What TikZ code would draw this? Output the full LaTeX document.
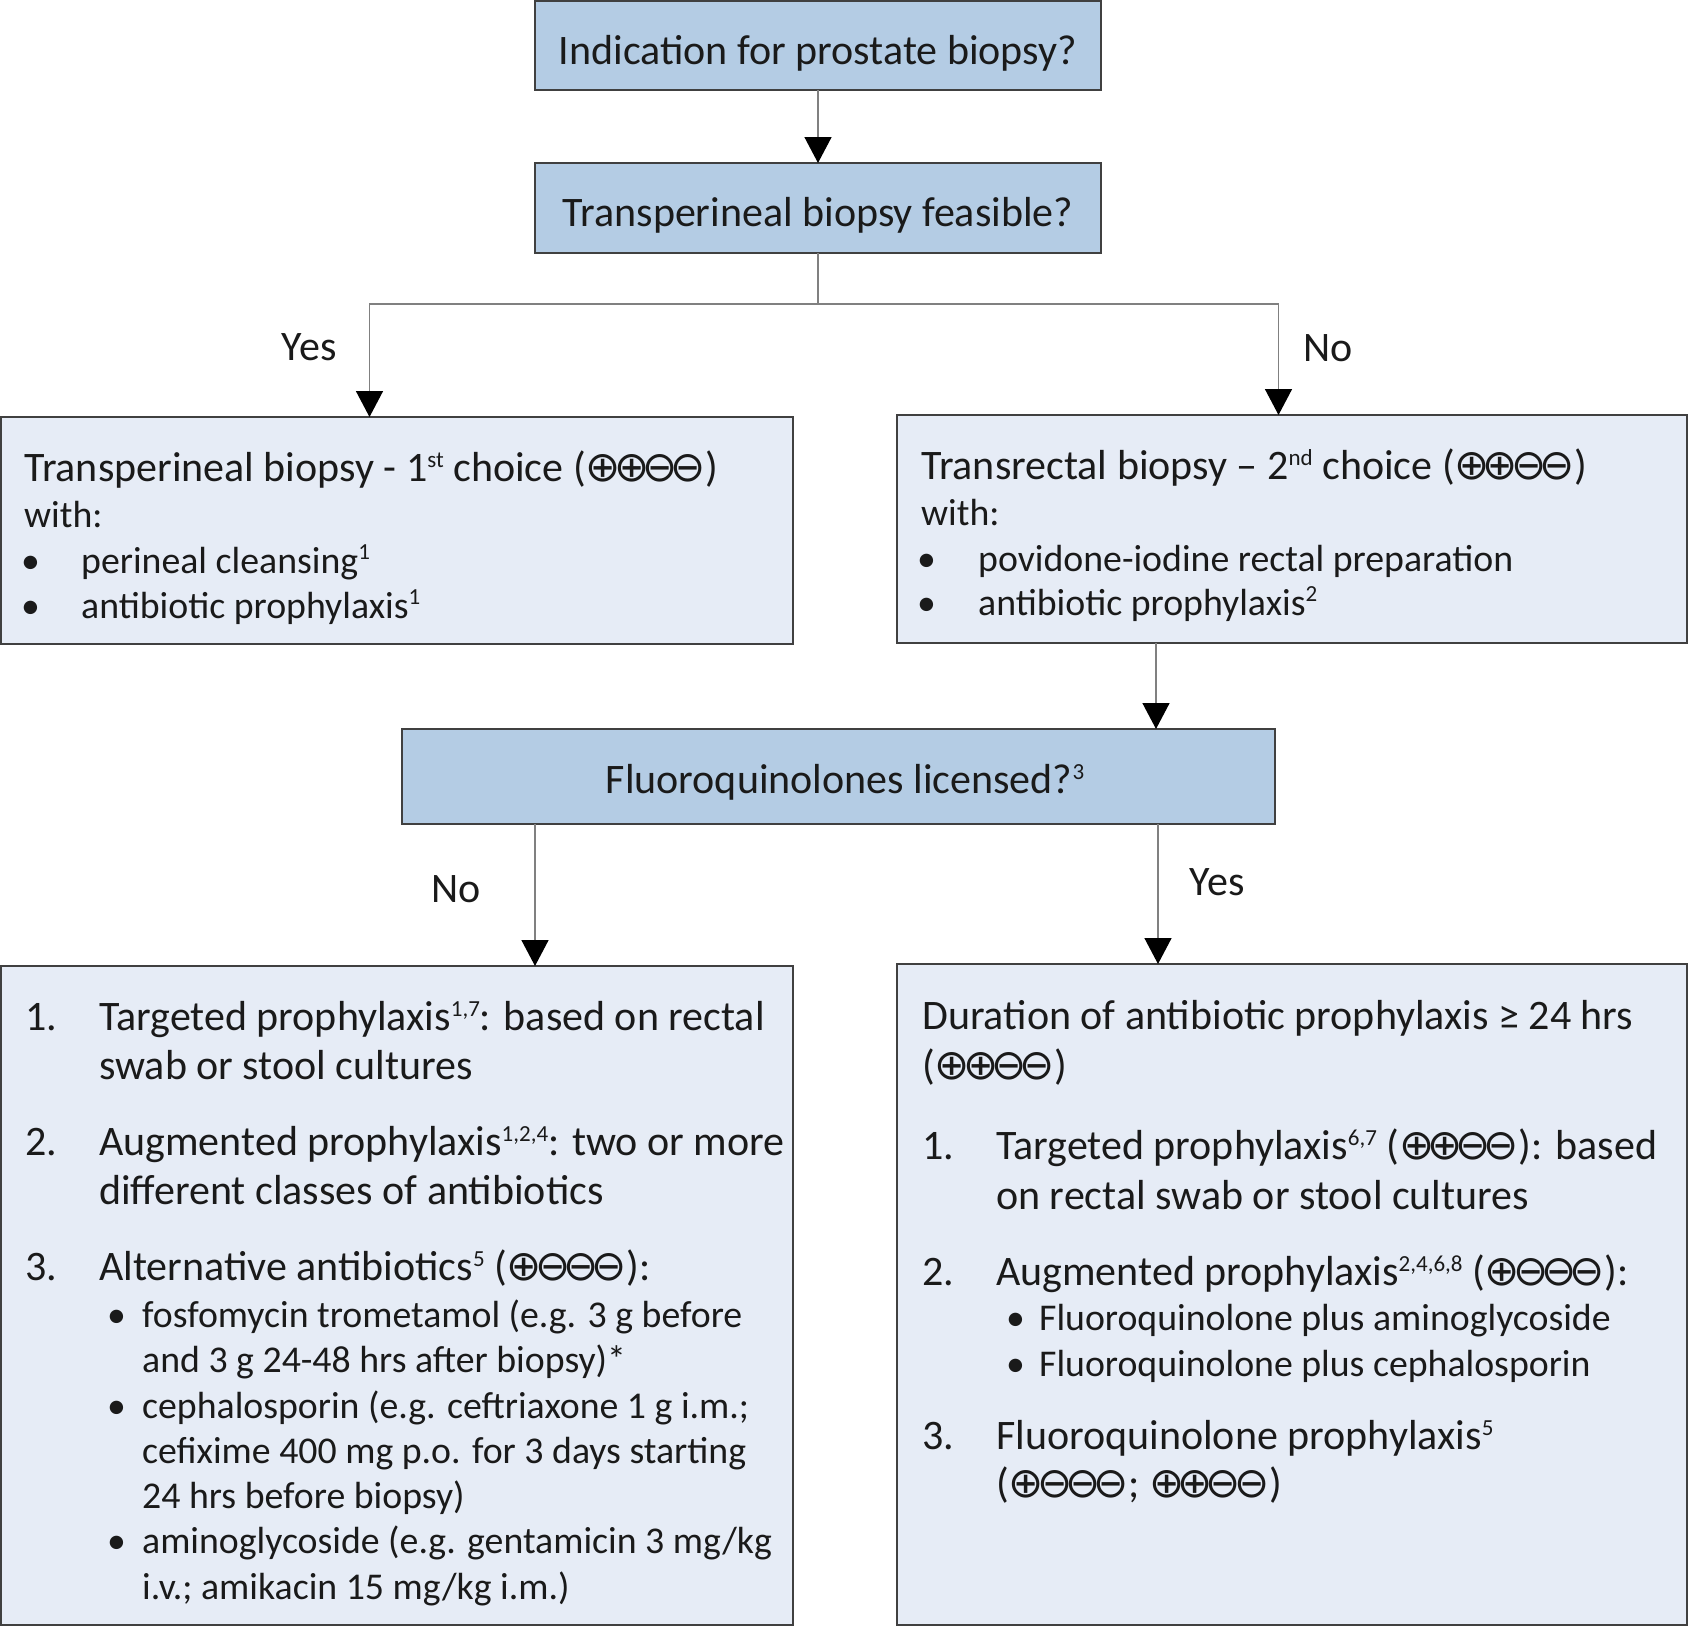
\documentclass[tikz,border=0pt]{standalone}
\usepackage{fontspec}
\setmainfont{Carlito}
\newfontfamily\symf[Scale=1.0]{DejaVu Sans}
\usetikzlibrary{arrows.meta}
\definecolor{qfill}{HTML}{B4CCE4}
\definecolor{bfill}{HTML}{E6ECF6}
\definecolor{bdr}{HTML}{404040}
\definecolor{cline}{HTML}{808080}
\definecolor{tcol}{HTML}{1A1A1A}
\newcommand\fsA{\fontsize{42pt}{47pt}\selectfont}
\newcommand\fsB{\fontsize{37.8pt}{42pt}\selectfont}
\newcommand\gP{{\symf ⊕}\kern-7pt}
\newcommand\gM{{\symf ⊖}\kern-7pt}
\newcommand\sps[1]{\raisebox{14pt}{\fontsize{23pt}{23pt}\selectfont #1}}
\begin{document}
\begin{tikzpicture}[x=1pt,y=-1pt,
  qbox/.style={draw=bdr,line width=1.5pt,fill=qfill,inner sep=0pt,outer sep=0pt},
  lbox/.style={draw=bdr,line width=1.5pt,fill=bfill,inner sep=0pt,outer sep=0pt},
  txt/.style={anchor=base west,inner sep=0pt,font=\fsA,text=tcol},
  ctxt/.style={anchor=base,inner sep=0pt,font=\fsA,text=tcol},
  stxt/.style={txt,font=\fsB},
  conn/.style={draw=cline,line width=1.5pt},
  arr/.style={conn,-{Triangle[length=26pt,width=27pt,color=black]}},
  lbl/.style={font=\fsA,inner sep=0pt,text=tcol}]
\useasboundingbox[fill=white] (0,0) rectangle (1689,1626);

% boxes
\node[qbox,minimum width=566pt,minimum height=89pt] (b1) at (818,45.5) {};
\node[qbox,minimum width=566pt,minimum height=90pt] (b2) at (818,208) {};
\node[lbox,minimum width=792pt,minimum height=227pt] (b3) at (397,530.5) {};
\node[lbox,minimum width=790pt,minimum height=228pt] (b4) at (1292,529) {};
\node[qbox,minimum width=873pt,minimum height=95pt] (b5) at (838.5,776.5) {};
\node[lbox,minimum width=792pt,minimum height=659pt] (b6) at (397,1295.5) {};
\node[lbox,minimum width=790pt,minimum height=661pt] (b7) at (1292,1294.5) {};

% question texts
\node[ctxt] (t1) at (818,64) {Indication for prostate biopsy?};
\node[ctxt] (t2) at (818,226) {Transperineal biopsy feasible?};
\node[ctxt] (t5) at (845,793) {Fluoroquinolones licensed?\sps{3}};

% box 3
\node[txt] (l3a) at (24,481) {Transperineal biopsy - 1\sps{st} choice (\gP\gP\gM\gM\kern7pt)};
\node[stxt] (l3b) at (24,527) {with:};
\node[stxt] (l3c) at (21,573) {\makebox[60pt][l]{•}perineal cleansing\sps{1}};
\node[stxt] (l3d) at (21,618) {\makebox[60pt][l]{•}antibiotic prophylaxis\sps{1}};

% box 4
\node[txt] (l4a) at (921,479) {Transrectal biopsy – 2\sps{nd} choice (\gP\gP\gM\gM\kern7pt)};
\node[stxt] (l4b) at (921,525) {with:};
\node[stxt] (l4c) at (917,571) {\makebox[61pt][l]{•}povidone-iodine rectal preparation};
\node[stxt] (l4d) at (917,615) {\makebox[61pt][l]{•}antibiotic prophylaxis\sps{2}};

% box 6
\node[txt] (l6a) at (25,1030) {\makebox[74pt][l]{1.}Targeted prophylaxis\sps{1,7}: based on rectal};
\node[txt] (l6b) at (99,1079) {swab or stool cultures};
\node[txt] (l6c) at (25,1155) {\makebox[74pt][l]{2.}Augmented prophylaxis\sps{1,2,4}: two or more};
\node[txt] (l6d) at (99,1204) {different classes of antibiotics};
\node[txt] (l6e) at (25,1280) {\makebox[74pt][l]{3.}Alternative antibiotics\sps{5} (\gP\gM\gM\gM\kern7pt):};
\node[stxt] (l6f) at (107,1327) {\makebox[35pt][l]{•}fosfomycin trometamol (e.g. 3 g before};
\node[stxt] (l6g) at (142,1372) {and 3 g 24-48 hrs after biopsy)*};
\node[stxt] (l6h) at (107,1418) {\makebox[35pt][l]{•}cephalosporin (e.g. ceftriaxone 1 g i.m.;};
\node[stxt] (l6i) at (142,1463) {cefixime 400 mg p.o. for 3 days starting};
\node[stxt] (l6j) at (142,1508) {24 hrs before biopsy)};
\node[stxt] (l6k) at (107,1553) {\makebox[35pt][l]{•}aminoglycoside (e.g. gentamicin 3 mg/kg};
\node[stxt] (l6l) at (142,1599) {i.v.; amikacin 15 mg/kg i.m.)};

% box 7
\node[txt] (l7a) at (922,1029) {Duration of antibiotic prophylaxis ≥ 24 hrs};
\node[txt] (l7b) at (922,1079) {(\gP\gP\gM\gM\kern7pt)};
\node[txt] (l7c) at (922,1159) {\makebox[74pt][l]{1.}Targeted prophylaxis\sps{6,7} (\gP\gP\gM\gM\kern7pt): based};
\node[txt] (l7d) at (996,1209) {on rectal swab or stool cultures};
\node[txt] (l7e) at (922,1285) {\makebox[74pt][l]{2.}Augmented prophylaxis\sps{2,4,6,8} (\gP\gM\gM\gM\kern7pt):};
\node[stxt] (l7f) at (1006,1330) {\makebox[33pt][l]{•}Fluoroquinolone plus aminoglycoside};
\node[stxt] (l7g) at (1006,1376) {\makebox[33pt][l]{•}Fluoroquinolone plus cephalosporin};
\node[txt] (l7h) at (922,1449) {\makebox[74pt][l]{3.}Fluoroquinolone prophylaxis\sps{5}};
\node[txt] (l7i) at (996,1497) {(\gP\gM\gM\gM\kern7pt; \gP\gP\gM\gM\kern7pt)};

% connectors
\coordinate (j0) at (818,304);
\coordinate (jl) at (369.5,304);
\coordinate (jr) at (1278.5,304);
\coordinate (c45) at (1156,0);
\coordinate (c56) at (535,0);
\coordinate (c57) at (1158,0);
\draw[arr] (b1.south) -- (b2.north);
\draw[conn] (b2.south) -- (j0);
\draw[arr] (j0) -- (jl) -- (b3.north -| jl);
\draw[arr] (j0) -- (jr) -- (b4.north -| jr);
\draw[arr] (b4.south -| c45) -- (b5.north -| c45);
\draw[arr] (b5.south -| c56) -- (b6.north -| c56);
\draw[arr] (b5.south -| c57) -- (b7.north -| c57);

% labels
\node[lbl] (yes1) at (309,347) {Yes};
\node[lbl] (no1) at (1328,348) {No};
\node[lbl] (no2) at (456,889) {No};
\node[lbl] (yes2) at (1217,882) {Yes};
\end{tikzpicture}
\end{document}
